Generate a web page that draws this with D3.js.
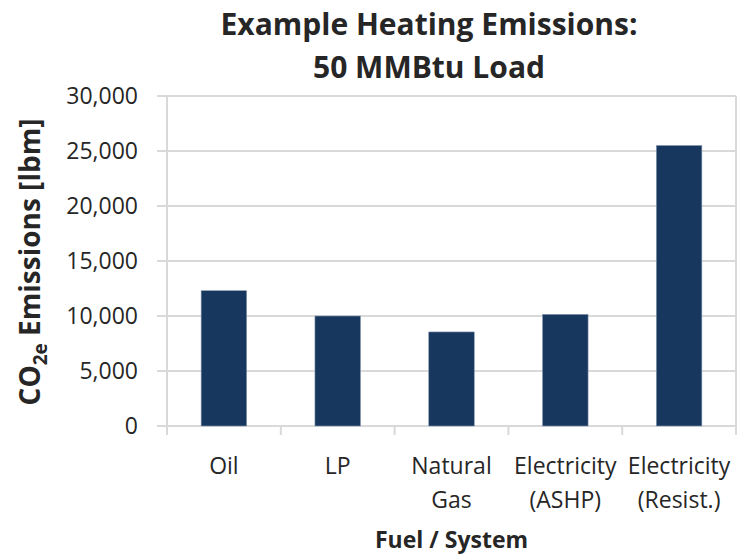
<!DOCTYPE html>
<html>
<head>
<meta charset="utf-8">
<script src="https://cdn.jsdelivr.net/npm/d3@7"></script>
<style>
  body { margin: 0; background: #fff; }
  text { font-family: "Open Sans", Lato, sans-serif; fill: #262626; }
</style>
</head>
<body>
<script>
const w = 737;
const h = 554;

// data
const categories = ["Oil", "LP", "Natural Gas", "Electricity (ASHP)", "Electricity (Resist.)"];
const labelLines = [["Oil"], ["LP"], ["Natural", "Gas"], ["Electricity", "(ASHP)"], ["Electricity", "(Resist.)"]];
const emissions = [12300, 10000, 8550, 10150, 25500];
const yTicks = [0, 5000, 10000, 15000, 20000, 25000, 30000];

const margin = {left: 167, right: 1, top: 96, bottom: 128};

const svg = d3.select("body")
    .append("svg")
    .attr("width", w)
    .attr("height", h)

const xScale = d3.scaleBand()
    .domain(categories)
    .range([margin.left, w - margin.right])
    .paddingInner(0.6)
    .paddingOuter(0.3)

const xEdges = d3.scaleBand()
    .domain(categories)
    .range([margin.left, w - margin.right])

const yScale = d3.scaleLinear()
    .domain([0, 30000])
    .range([h - margin.bottom, margin.top])

// gridlines
svg.append("g")
    .selectAll("line")
    .data(yTicks)
    .enter()
    .append("line")
      .attr("x1", margin.left - 10)
      .attr("x2", w - margin.right)
      .attr("y1", d => yScale(d))
      .attr("y2", d => yScale(d))
      .style("stroke", "#d9d9d9")
      .style("stroke-width", 2)

// y axis line and right border
svg.append("line")
    .attr("x1", margin.left).attr("x2", margin.left)
    .attr("y1", yScale(30000)).attr("y2", yScale(0) + 9)
    .style("stroke", "#d9d9d9").style("stroke-width", 2)

svg.append("line")
    .attr("x1", w - margin.right).attr("x2", w - margin.right)
    .attr("y1", yScale(30000)).attr("y2", yScale(0) + 9)
    .style("stroke", "#d9d9d9").style("stroke-width", 2)

// category ticks between bands
svg.append("g")
    .selectAll("line")
    .data(categories.slice(1))
    .enter()
    .append("line")
      .attr("x1", d => xEdges(d))
      .attr("x2", d => xEdges(d))
      .attr("y1", yScale(0))
      .attr("y2", yScale(0) + 9)
      .style("stroke", "#d9d9d9")
      .style("stroke-width", 2)

// y tick labels
svg.append("g")
    .selectAll("text")
    .data(yTicks)
    .enter()
    .append("text")
      .attr("x", margin.left - 29)
      .attr("y", d => yScale(d))
      .attr("dy", "0.36em")
      .attr("text-anchor", "end")
      .style("font-size", "23px")
      .text(d => d3.format(",")(d))

// bars
svg.append("g")
    .selectAll("rect")
    .data(emissions)
    .enter()
    .append("rect")
      .attr("x", (d, i) => xScale(categories[i]))
      .attr("y", d => yScale(d))
      .attr("width", xScale.bandwidth())
      .attr("height", d => yScale(0) - yScale(d))
      .style("fill", "#17375e")
      .style("stroke", "#8496b0")
      .style("stroke-width", 0.6)

// category labels
const catLabels = svg.append("g")
    .selectAll("text")
    .data(labelLines)
    .enter()
    .append("text")
      .attr("text-anchor", "middle")
      .style("font-size", "23px")

catLabels.selectAll("tspan")
    .data((d, i) => d.map(t => ({t: t, c: categories[i]})))
    .enter()
    .append("tspan")
      .attr("x", d => xScale(d.c) + xScale.bandwidth() / 2)
      .attr("y", (d, j) => 474 + j * 34)
      .text(d => d.t)

// axis title
svg.append("text")
    .attr("x", (margin.left + w - margin.right) / 2)
    .attr("y", 548)
    .attr("text-anchor", "middle")
    .style("font-size", "23px")
    .style("font-weight", "bold")
    .text("Fuel / System")

// y axis title with subscript
const yTitle = svg.append("text")
    .attr("transform", "translate(40, 262) rotate(-90)")
    .attr("text-anchor", "middle")
    .style("font-size", "28px")
    .style("font-weight", "bold")
yTitle.append("tspan").text("CO")
yTitle.append("tspan").attr("dy", 7).style("font-size", "19px").text("2e")
yTitle.append("tspan").attr("dy", -7).text(" Emissions [lbm]")

// title
svg.append("text")
    .attr("x", 429)
    .attr("y", 35)
    .attr("text-anchor", "middle")
    .style("font-size", "30px")
    .style("font-weight", "bold")
    .text("Example Heating Emissions:")

svg.append("text")
    .attr("x", 429)
    .attr("y", 78)
    .attr("text-anchor", "middle")
    .style("font-size", "30px")
    .style("font-weight", "bold")
    .text("50 MMBtu Load")
</script>
</body>
</html>
